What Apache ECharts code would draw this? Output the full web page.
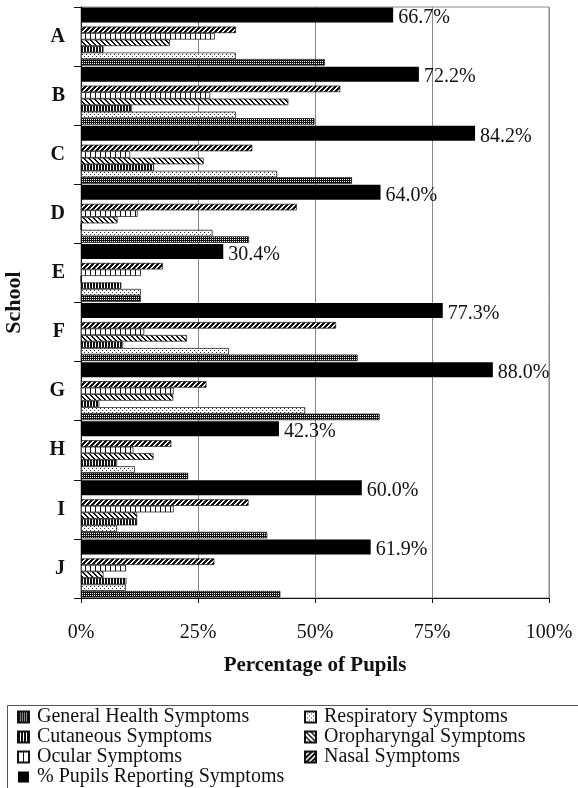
<!DOCTYPE html>
<html><head><meta charset="utf-8">
<script src="https://cdn.jsdelivr.net/npm/echarts@6/dist/echarts.min.js"></script>
<style>html,body{margin:0;padding:0;background:#fff}#c{width:578px;height:788px}</style>
</head><body><div id="c"></div>
<script>
// ---- data ----
const schools = ['A','B','C','D','E','F','G','H','I','J'];
const xTicks = [0, 25, 50, 75, 100];
const pupilsReporting = [66.7, 72.2, 84.2, 64.0, 30.4, 77.3, 88.0, 42.3, 60.0, 61.9];
const nasal          = [33.1, 55.4, 36.6, 46.1, 17.5, 54.5, 26.8, 19.3, 35.8, 28.5];
const ocular         = [28.6, 27.6, 10.5, 12.1, 12.8, 13.5, 19.8, 11.2, 19.8,  9.6];
const oropharyngal   = [19.0, 44.3, 26.2,  7.8,  0.0, 22.6, 19.7, 15.5, 12.0,  4.8];
const cutaneous      = [ 4.8, 10.9, 15.6,  0.0,  8.6,  9.0,  3.9,  7.7, 12.0,  9.7];
const respiratory    = [33.1, 33.1, 41.9, 28.1, 12.8, 31.6, 47.9, 11.5,  7.7,  9.6];
const generalHealth  = [52.1, 49.9, 57.9, 35.9, 12.8, 59.1, 63.8, 22.9, 39.8, 42.6];

// ---- patterns ----
function tile(w, h, fn, ink) {
  const c = document.createElement('canvas');
  c.width = w; c.height = h;
  const ctx = c.getContext('2d');
  ctx.fillStyle = '#fff'; ctx.fillRect(0, 0, w, h);
  ctx.fillStyle = ink || '#111';
  for (let y = 0; y < h; y++) for (let x = 0; x < w; x++) if (fn(x, y)) ctx.fillRect(x, y, 1, 1);
  return { image: c, repeat: 'repeat' };
}
const pGeneral = tile(4, 4, (x, y) => y % 2 === 0 || (x + y) % 2 === 0);
const pResp    = tile(4, 4, (x, y) => (x === 0 && y === 0) || (x === 2 && y === 2), '#333');
const pCut     = tile(3, 1, (x) => x < 2);
const pOcular  = tile(5, 1, (x) => x === 0);
const pOro     = tile(5, 5, (x, y) => ((x - y + 10) % 5) < 2);
const pNasal   = tile(5, 5, (x, y) => ((x + y) % 5) < 3);

const FONT = "'Liberation Serif', 'Times New Roman', serif";
const INK = '#111';

function patBar(name, data, pat) {
  return {
    name, type: 'bar', data, barWidth: 6.5, barGap: '0%',
    itemStyle: { color: pat, borderColor: '#111', borderWidth: 0.7 },
    emphasis: { disabled: true }
  };
}

const legendText = { fontFamily: FONT, fontSize: 20, lineHeight: 19, color: INK, padding: [0, 0, 0, 3] };

const chart = echarts.init(document.getElementById('c'), null, { renderer: 'canvas' });
chart.setOption({
  animation: false,
  backgroundColor: '#fff',
  textStyle: { fontFamily: FONT, color: INK },
  grid: {
    left: 81, right: 29, top: 7, bottom: 190, containLabel: false, outerBoundsMode: 'none',
    show: true, borderColor: '#888', borderWidth: 1
  },
  xAxis: {
    type: 'value', min: xTicks[0], max: xTicks[xTicks.length - 1], interval: 25,
    axisLine: { show: true, lineStyle: { color: INK, width: 1 } },
    axisTick: { show: true, length: 5, lineStyle: { color: INK } },
    axisLabel: { formatter: '{value}%', fontFamily: FONT, fontSize: 20, color: INK, margin: 25 },
    splitLine: { show: true, lineStyle: { color: '#888', width: 1 } },
    name: 'Percentage of Pupils', nameLocation: 'middle', nameGap: 57,
    nameTextStyle: { fontFamily: FONT, fontSize: 21, fontWeight: 'bold', color: INK }
  },
  yAxis: {
    type: 'category', data: schools, inverse: true,
    axisLine: { show: true, lineStyle: { color: INK, width: 1 } },
    axisTick: { show: true, length: 7, lineStyle: { color: INK } },
    axisLabel: { fontFamily: FONT, fontSize: 20, fontWeight: 'bold', color: INK, margin: 16 },
    name: 'School', nameLocation: 'middle', nameGap: 56, nameRotate: 90,
    nameTextStyle: { fontFamily: FONT, fontSize: 22, fontWeight: 'bold', color: INK }
  },
  legend: [
    {
      orient: 'vertical', left: 17, top: 707, padding: 0, itemGap: 0,
      itemWidth: 11, itemHeight: 11, icon: 'rect', selectedMode: false,
      data: ['General Health Symptoms', 'Cutaneous Symptoms', 'Ocular Symptoms', '% Pupils Reporting Symptoms'],
      textStyle: legendText
    },
    {
      orient: 'vertical', left: 304, top: 707, padding: 0, itemGap: 0,
      itemWidth: 11, itemHeight: 11, icon: 'rect', selectedMode: false,
      data: ['Respiratory Symptoms', 'Oropharyngal Symptoms', 'Nasal Symptoms'],
      textStyle: legendText
    }
  ],
  graphic: [{
    type: 'rect', left: 5, top: 703, silent: true,
    shape: { width: 580, height: 83 },
    style: { fill: 'none', stroke: '#555', lineWidth: 1 }
  }],
  series: [
    {
      name: '% Pupils Reporting Symptoms', type: 'bar', data: pupilsReporting,
      barWidth: 15, barGap: '0%',
      itemStyle: { color: '#000' },
      emphasis: { disabled: true },
      label: {
        show: true, position: 'right', distance: 5, offset: [0, 3],
        formatter: p => p.value.toFixed(1) + '%',
        fontFamily: FONT, fontSize: 20, color: INK
      }
    },
    { name: 'spacer', type: 'bar', data: schools.map(() => null), barWidth: 4, barGap: '0%', silent: true },
    patBar('Nasal Symptoms', nasal, pNasal),
    patBar('Ocular Symptoms', ocular, pOcular),
    patBar('Oropharyngal Symptoms', oropharyngal, pOro),
    patBar('Cutaneous Symptoms', cutaneous, pCut),
    patBar('Respiratory Symptoms', respiratory, pResp),
    patBar('General Health Symptoms', generalHealth, pGeneral)
  ]
});
</script></body></html>
